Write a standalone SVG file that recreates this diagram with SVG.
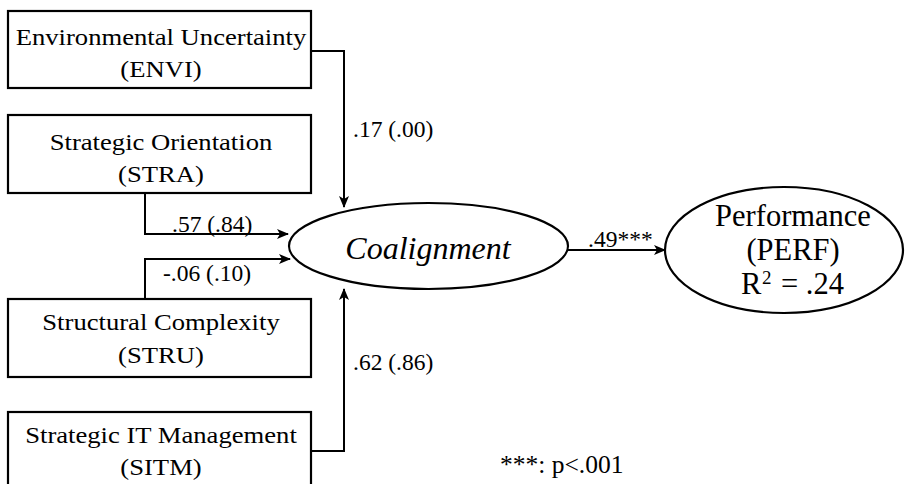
<svg xmlns="http://www.w3.org/2000/svg" width="906" height="484" viewBox="0 0 906 484">
  <style>
    .box { fill: #fff; stroke: #000; stroke-width: 2.2; }
    .oval { fill: #fff; stroke: #000; stroke-width: 2.2; }
    .wire { fill: none; stroke: #000; stroke-width: 2; }
    text { font-family: "Liberation Serif", "Times New Roman", serif; fill: #000; }
    .lbl { font-size: 24px; text-anchor: middle; }
    .coef { font-size: 23.5px; }
    .big { font-size: 30.5px; }
  </style>
  <defs>
    <marker id="head" viewBox="0 0 12 10" refX="11" refY="5" markerWidth="12" markerHeight="10" markerUnits="userSpaceOnUse" orient="auto">
      <path d="M0,0 L12,5 L0,10 L3,5 z" fill="#000"/>
    </marker>
  </defs>

  <g id="connectors">
    <path class="wire" d="M311,51 H344 V207" marker-end="url(#head)"/>
    <path class="wire" d="M145,193 V234 H288" marker-end="url(#head)"/>
    <path class="wire" d="M145,299 V259 H290" marker-end="url(#head)"/>
    <path class="wire" d="M311,451 H344 V289" marker-end="url(#head)"/>
    <path class="wire" d="M568,250 H665" marker-end="url(#head)"/>
    <text class="coef" x="353" y="137">.17 (.00)</text>
    <text class="coef" x="172" y="232">.57 (.84)</text>
    <text class="coef" x="163" y="281">-.06 (.10)</text>
    <text class="coef" x="353" y="370">.62 (.86)</text>
    <text class="coef" x="588" y="247">.49***</text>
  </g>

  <!-- box labels are set slightly wide: 24px type stretched 1.11x horizontally -->
  <g id="envi">
    <rect class="box" x="8" y="11" width="303" height="77"/>
    <g transform="matrix(1.11 0 0 1 161 0)">
      <text class="lbl" x="0" y="45">Environmental Uncertainty</text>
      <text class="lbl" x="0" y="77">(ENVI)</text>
    </g>
  </g>
  <g id="stra">
    <rect class="box" x="8" y="115" width="303" height="78"/>
    <g transform="matrix(1.11 0 0 1 161 0)">
      <text class="lbl" x="0" y="150">Strategic Orientation</text>
      <text class="lbl" x="0" y="182">(STRA)</text>
    </g>
  </g>
  <g id="stru">
    <rect class="box" x="8" y="299" width="303" height="78"/>
    <g transform="matrix(1.11 0 0 1 161 0)">
      <text class="lbl" x="0" y="330">Structural Complexity</text>
      <text class="lbl" x="0" y="363">(STRU)</text>
    </g>
  </g>
  <g id="sitm">
    <rect class="box" x="8" y="412" width="303" height="80"/>
    <g transform="matrix(1.11 0 0 1 161 0)">
      <text class="lbl" x="0" y="443">Strategic IT Management</text>
      <text class="lbl" x="0" y="475">(SITM)</text>
    </g>
  </g>

  <g id="coalignment">
    <ellipse class="oval" cx="428.5" cy="246" rx="139.5" ry="43"/>
    <text x="428" y="259" font-size="32" font-style="italic" text-anchor="middle">Coalignment</text>
  </g>

  <g id="perf">
    <ellipse class="oval" cx="784" cy="250" rx="119" ry="63"/>
    <text class="big" x="793" y="226" text-anchor="middle">Performance</text>
    <text class="big" x="793" y="260" text-anchor="middle">(PERF)</text>
    <text class="big" x="741" y="294">R</text>
    <text x="762" y="284" font-size="19">2</text>
    <text class="big" x="781" y="294">= .24</text>
  </g>

  <g id="note">
    <text x="500" y="473" font-size="25.5">***: p&lt;.001</text>
  </g>
</svg>
